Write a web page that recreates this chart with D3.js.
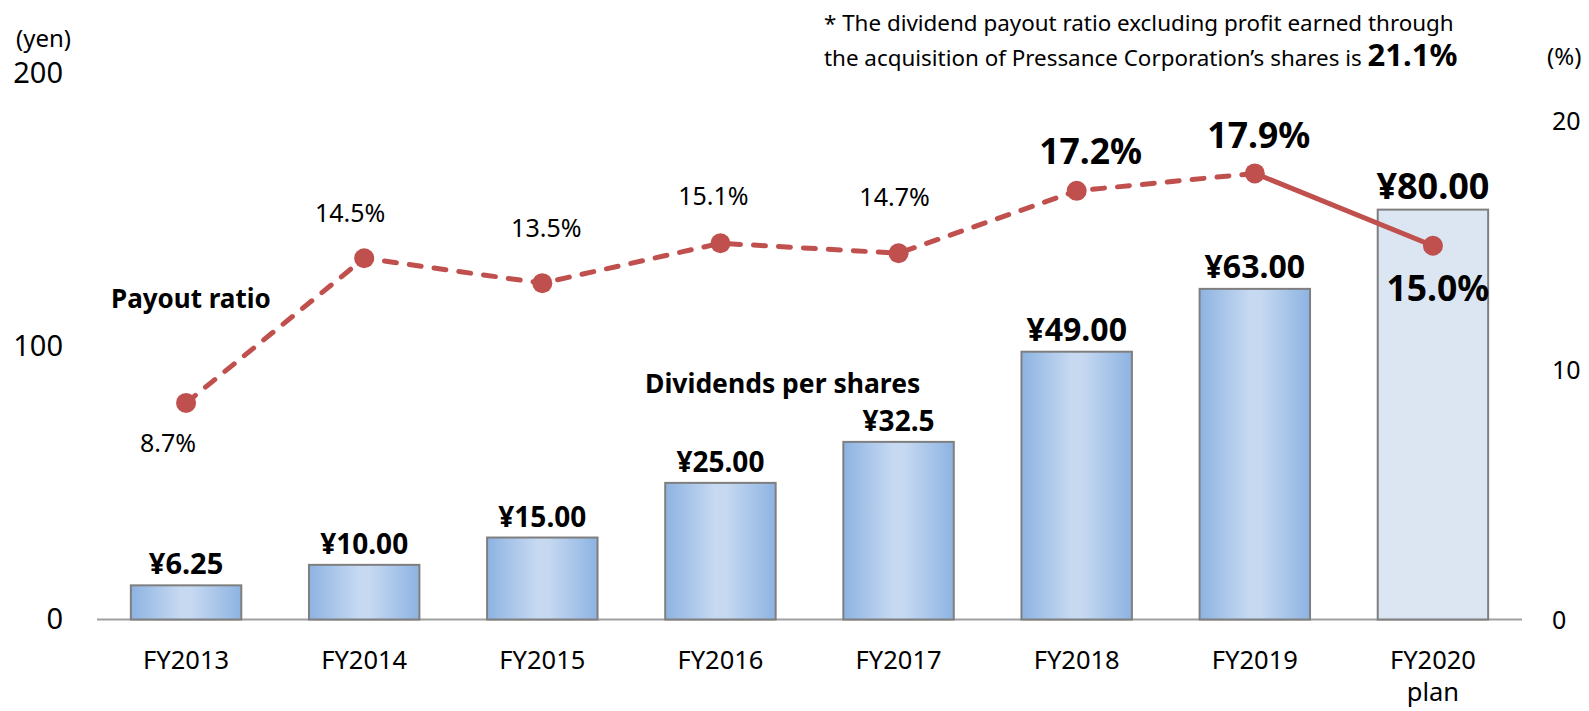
<!DOCTYPE html>
<html>
<head>
<meta charset="utf-8">
<script src="https://cdn.jsdelivr.net/npm/d3@7"></script>
<style>
  html, body { margin: 0; padding: 0; background: #fff; }
  svg { display: block; font-family: "Noto Sans", "Open Sans", sans-serif; }
</style>
</head>
<body>
<svg id="chart" width="1589" height="711"></svg>
<script>
// Values
const categories = ["FY2013", "FY2014", "FY2015", "FY2016", "FY2017", "FY2018", "FY2019", "FY2020"]
const categorySubLabels = ["", "", "", "", "", "", "", "plan"]
// bar heights as drawn against the left (yen) axis
const dividendBars = [12.5, 20, 30, 50, 65, 98, 121, 150]
const dividendLabels = ["¥6.25", "¥10.00", "¥15.00", "¥25.00", "¥32.5", "¥49.00", "¥63.00", "¥80.00"]
const payoutRatio = [8.7, 14.5, 13.5, 15.1, 14.7, 17.2, 17.9, 15.0]
const payoutLabels = ["8.7%", "14.5%", "13.5%", "15.1%", "14.7%", "17.2%", "17.9%", "15.0%"]
const leftTicks = [0, 100, 200]
const rightTicks = [0, 10, 20]

const svg = d3.select("#chart")
const red = "#C0504D"

// Scales
const x = d3.scaleBand()
  .domain(categories)
  .range([97, 1522])
  .paddingInner(0.38)
  .paddingOuter(0.19)
const yLeft = d3.scaleLinear().domain([0, 200]).range([619.5, 73])
const yRight = d3.scaleLinear().domain([0, 20]).range([620, 121])

// Bar gradient
const grad = svg.append("defs").append("linearGradient")
  .attr("id", "barGrad")
  .attr("x1", "0%").attr("x2", "100%").attr("y1", "0%").attr("y2", "0%")
grad.append("stop").attr("offset", "0%").attr("stop-color", "#8DB3E2")
grad.append("stop").attr("offset", "45%").attr("stop-color", "#C6D9F1")
grad.append("stop").attr("offset", "55%").attr("stop-color", "#C6D9F1")
grad.append("stop").attr("offset", "100%").attr("stop-color", "#8DB3E2")

// Axes (labels only)
const leftAxis = svg.append("g")
  .attr("transform", "translate(63,0)")
  .call(d3.axisLeft(yLeft).tickValues(leftTicks).tickSize(0).tickPadding(0))
leftAxis.select(".domain").remove()
leftAxis.selectAll("text")
  .attr("font-family", "Noto Sans")
  .attr("font-size", 29)
  .attr("fill", "#000")

const rightAxis = svg.append("g")
  .attr("transform", "translate(1552,0)")
  .call(d3.axisRight(yRight).tickValues(rightTicks).tickSize(0).tickPadding(0))
rightAxis.select(".domain").remove()
rightAxis.selectAll("text")
  .attr("font-family", "Noto Sans")
  .attr("font-size", 25)
  .attr("fill", "#000")

// Baseline
svg.append("line")
  .attr("x1", x.range()[0]).attr("x2", x.range()[1])
  .attr("y1", yLeft(0)).attr("y2", yLeft(0))
  .attr("stroke", "#A0A0A0")
  .attr("stroke-width", 2)

// Bars
svg.append("g")
  .selectAll("rect")
  .data(dividendBars)
  .join("rect")
  .attr("x", (d, i) => x(categories[i]))
  .attr("y", (d) => yLeft(d))
  .attr("width", x.bandwidth())
  .attr("height", (d) => yLeft(0) - yLeft(d))
  .attr("fill", (d, i) => (i === dividendBars.length - 1 ? "#DCE6F2" : "url(#barGrad)"))
  .attr("stroke", "#7F7F7F")
  .attr("stroke-width", 2)

// Bar value labels
const barLabelSize = [29, 28, 28, 28, 28, 32, 32, 36]
svg.append("g")
  .selectAll("text")
  .data(dividendLabels)
  .join("text")
  .attr("x", (d, i) => x(categories[i]) + x.bandwidth() / 2)
  .attr("y", (d, i) => yLeft(dividendBars[i]) - 11)
  .attr("text-anchor", "middle")
  .attr("font-weight", "bold")
  .attr("font-size", (d, i) => barLabelSize[i])
  .text((d) => d)

// Category labels
const cx = (i) => x(categories[i]) + x.bandwidth() / 2
svg.append("g")
  .selectAll("text")
  .data(categories)
  .join("text")
  .attr("x", (d, i) => cx(i))
  .attr("y", 669)
  .attr("text-anchor", "middle")
  .attr("font-size", 25.5)
  .text((d) => d)
svg.append("g")
  .selectAll("text")
  .data(categorySubLabels)
  .join("text")
  .attr("x", (d, i) => cx(i))
  .attr("y", 701)
  .attr("text-anchor", "middle")
  .attr("font-size", 25.5)
  .text((d) => d)

// Payout ratio line: dashed for actuals, solid to the plan year
const pts = payoutRatio.map((v, i) => [cx(i), yRight(v)])
const line = d3.line()
svg.append("path")
  .attr("d", line(pts.slice(0, 7)))
  .attr("fill", "none")
  .attr("stroke", red)
  .attr("stroke-width", 5)
  .attr("stroke-linecap", "round")
  .attr("stroke-dasharray", "12,13")
svg.append("path")
  .attr("d", line(pts.slice(6)))
  .attr("fill", "none")
  .attr("stroke", red)
  .attr("stroke-width", 5)

svg.append("g")
  .selectAll("circle")
  .data(pts)
  .join("circle")
  .attr("cx", (d) => d[0])
  .attr("cy", (d) => d[1])
  .attr("r", 10)
  .attr("fill", red)

// Percent labels, nudged around each marker like the original
const pctOffset = [[-18, 49], [-14, -36], [4, -46], [-7, -38], [-4, -47], [14, -27], [4, -25], [5, 55]]
svg.append("g")
  .selectAll("text")
  .data(payoutLabels)
  .join("text")
  .attr("x", (d, i) => pts[i][0] + pctOffset[i][0])
  .attr("y", (d, i) => pts[i][1] + pctOffset[i][1])
  .attr("text-anchor", "middle")
  .attr("font-weight", (d, i) => (i >= 5 ? "bold" : "normal"))
  .attr("font-size", (d, i) => (i >= 5 ? 35.5 : 25))
  .text((d) => d)

// Series names
svg.append("text")
  .attr("x", 111).attr("y", 308)
  .attr("font-weight", "bold")
  .attr("font-size", 26)
  .text("Payout ratio")
svg.append("text")
  .attr("x", 645).attr("y", 393)
  .attr("font-weight", "bold")
  .attr("font-size", 26.5)
  .text("Dividends per shares")

// Axis units
svg.append("text")
  .attr("x", 16).attr("y", 47)
  .attr("font-size", 24)
  .text("(yen)")
svg.append("text")
  .attr("x", 1547).attr("y", 65)
  .attr("font-size", 24)
  .text("(%)")

// Footnote
svg.append("text")
  .attr("x", 824).attr("y", 31)
  .attr("font-size", 22.4)
  .text("* The dividend payout ratio excluding profit earned through")
const note2 = svg.append("text")
  .attr("x", 824).attr("y", 66)
  .attr("font-size", 22.4)
note2.append("tspan").text("the acquisition of Pressance Corporation’s shares is ")
note2.append("tspan")
  .attr("font-weight", "bold")
  .attr("font-size", 31)
  .text("21.1%")
</script>
</body>
</html>
